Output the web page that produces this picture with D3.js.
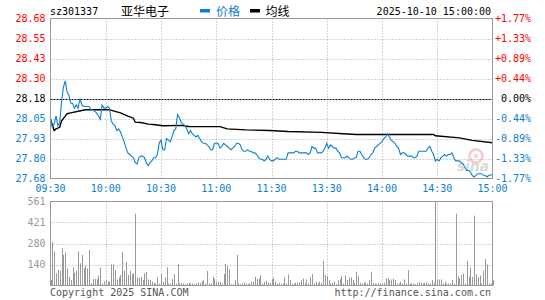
<!DOCTYPE html>
<html>
<head>
<meta charset="utf-8">
<script src="https://cdn.jsdelivr.net/npm/d3@7"></script>
<style>
  body { margin: 0; background: #fff; }
  text { font-family: "DejaVu Sans Mono", monospace; font-size: 10px; }
</style>
</head>
<body>
<script>
const stockCode = "sz301337", stockName = "亚华电子", stamp = "2025-10-10 15:00:00";
const legendNames = ["价格", "均线"];
const timeLabels = ["09:30", "10:00", "10:30", "11:00", "11:30", "13:30", "14:00", "14:30", "15:00"];
const priceLabels = ["28.68", "28.55", "28.43", "28.30", "28.18", "28.05", "27.93", "27.80", "27.68"];
const pctLabels = ["+1.77%", "+1.33%", "+0.89%", "+0.44%", "0.00%", "-0.44%", "-0.89%", "-1.33%", "-1.77%"];
const volLabels = ["561", "421", "280", "140"];
const priceMin = 27.68, priceMax = 28.68, prevClose = 28.18, volMax = 561;

// one value per minute, 09:30..11:30 then 13:01..15:00
const price = [
  28.05, 28.00, 28.02, 28.07, 28.01, 28.03, 28.16, 28.25, 28.29, 28.22,
  28.20, 28.15, 28.15, 28.12, 28.14, 28.12, 28.18, 28.14, 28.13, 28.13,
  28.13, 28.13, 28.11, 28.11, 28.10, 28.09, 28.07, 28.05, 28.14, 28.12,
  28.12, 28.13, 28.12, 28.04, 28.02, 28.01, 27.98, 27.99, 27.97, 27.94,
  27.91, 27.87, 27.84, 27.83, 27.82, 27.81, 27.78, 27.77, 27.81, 27.82,
  27.82, 27.81, 27.78, 27.76, 27.78, 27.79, 27.81, 27.81, 27.83, 27.90,
  27.92, 27.86, 27.86, 27.93, 27.92, 27.91, 27.94, 27.98, 27.99, 28.08,
  28.06, 28.03, 28.02, 28.01, 27.99, 27.96, 27.98, 27.96, 27.95, 27.94,
  27.95, 27.93, 27.91, 27.90, 27.90, 27.89, 27.88, 27.86, 27.86, 27.90,
  27.90, 27.90, 27.87, 27.88, 27.90, 27.89, 27.88, 27.87, 27.86, 27.87,
  27.88, 27.90, 27.90, 27.89, 27.86, 27.85, 27.85, 27.86, 27.85, 27.85,
  27.84, 27.84, 27.83, 27.81, 27.80, 27.80, 27.79, 27.80, 27.82, 27.80,
  27.79, 27.79, 27.80, 27.81, 27.80, 27.80, 27.80, 27.80, 27.80, 27.84,
  27.84, 27.84, 27.84, 27.85, 27.85, 27.84, 27.84, 27.84, 27.84, 27.84,
  27.83, 27.84, 27.88, 27.87, 27.87, 27.84, 27.84, 27.84, 27.85, 27.87,
  27.90, 27.87, 27.89, 27.88, 27.87, 27.87, 27.85, 27.84, 27.81, 27.81,
  27.81, 27.82, 27.81, 27.80, 27.80, 27.81, 27.81, 27.85, 27.85, 27.83,
  27.81, 27.80, 27.80, 27.81, 27.83, 27.84, 27.87, 27.88, 27.89, 27.90,
  27.91, 27.93, 27.94, 27.96, 27.94, 27.92, 27.91, 27.90, 27.88, 27.87,
  27.83, 27.84, 27.84, 27.83, 27.82, 27.82, 27.82, 27.81, 27.81, 27.82,
  27.85, 27.85, 27.85, 27.85, 27.85, 27.87, 27.88, 27.85, 27.83, 27.79,
  27.80, 27.79, 27.81, 27.82, 27.83, 27.82, 27.83, 27.83, 27.84, 27.81,
  27.79, 27.79, 27.79, 27.78, 27.77, 27.75, 27.73, 27.73, 27.72, 27.70,
  27.69, 27.70, 27.71, 27.71, 27.71, 27.70, 27.70, 27.69, 27.70, 27.70, 27.71
];

const avgMinute = [0, 2, 3, 5, 6, 8, 9, 11, 15, 19, 32, 35, 38, 42, 45, 46, 49, 53, 57, 61,
  71, 75, 92, 96, 106, 119, 129, 147, 159, 166, 208, 209, 222, 229, 240];
const avgPrice = [28.05, 27.98, 27.99, 28.00, 28.04, 28.07, 28.085, 28.09, 28.10, 28.11,
  28.11, 28.10, 28.09, 28.07, 28.057, 28.032, 28.03, 28.02, 28.016, 28.01,
  28.012, 28.005, 28.004, 27.99, 27.984, 27.98, 27.974, 27.968, 27.96, 27.955,
  27.955, 27.947, 27.934, 27.918, 27.903];

const volume = [
  36, 292, 227, 81, 103, 99, 249, 204, 220, 114,
  58, 36, 121, 85, 99, 227, 148, 204, 114, 130,
  114, 238, 13, 43, 43, 43, 67, 121, 13, 29,
  36, 29, 25, 141, 141, 103, 40, 54, 70, 225,
  99, 157, 70, 99, 76, 81, 480, 54, 52, 58,
  36, 81, 90, 40, 36, 25, 18, 13, 54, 13,
  81, 25, 54, 121, 13, 13, 43, 76, 13, 144,
  13, 18, 13, 9, 13, 18, 13, 13, 9, 13,
  22, 18, 29, 36, 13, 97, 13, 13, 58, 47,
  25, 25, 25, 13, 76, 144, 130, 108, 9, 9,
  36, 204, 13, 9, 13, 22, 13, 9, 13, 25,
  25, 58, 45, 47, 70, 13, 25, 31, 18, 18,
  43, 54, 25, 13, 18, 9, 13, 54, 13, 74,
  36, 9, 13, 18, 18, 22, 36, 47, 13, 40,
  13, 54, 76, 13, 25, 13, 25, 18, 164, 70,
  63, 36, 13, 18, 25, 9, 36, 43, 63, 13,
  67, 36, 54, 54, 36, 18, 92, 63, 18, 13,
  18, 22, 13, 36, 92, 18, 13, 9, 18, 13,
  13, 18, 49, 49, 36, 40, 45, 36, 13, 13,
  25, 13, 40, 13, 103, 13, 13, 13, 9, 18,
  25, 18, 13, 18, 22, 13, 13, 36, 18, 561,
  40, 40, 40, 13, 25, 13, 13, 13, 36, 13,
  480, 63, 47, 70, 81, 13, 164, 58, 119, 58,
  467, 76, 54, 67, 13, 99, 177, 141, 13, 13, 36
];

const width = 545, height = 300;
const left = 50.5, right = 492.5;
const red = "#ff0000", blue = "#0b80d0", grey = "#999";

const svg = d3.select("body").append("svg")
    .attr("width", width)
    .attr("height", height);

const x = d3.scaleLinear().domain([0, price.length - 1]).range([left, right]);
const y = d3.scaleLinear().domain([priceMin, priceMax]).range([178.5, 18.5]);
const yv = d3.scaleLinear().domain([0, volMax]).range([285.5, 201.5]);

const timeAt = d3.range(timeLabels.length).map(i => i * (price.length - 1) / (timeLabels.length - 1));
const priceAt = d3.range(priceLabels.length).map(i => priceMax - i * (priceMax - priceMin) / (priceLabels.length - 1));
const volAt = volLabels.map(v => +v);

function labelColor(i) {
    const mid = (priceLabels.length - 1) / 2;
    return i < mid ? red : (i > mid ? blue : "#000");
}

// header
svg.append("text").attr("x", 50).attr("y", 15).attr("fill", "#000").text(stockCode);
svg.append("text").attr("x", 121).attr("y", 15.5).attr("fill", "#000")
    .style("font-family", "'Noto Sans CJK SC'").style("font-size", "12px").text(stockName);
svg.append("rect").attr("x", 200).attr("y", 9).attr("width", 10).attr("height", 3.5).attr("fill", blue);
svg.append("text").attr("x", 216).attr("y", 15.5).attr("fill", blue)
    .style("font-family", "'Noto Sans CJK SC'").style("font-size", "12px").text(legendNames[0]);
svg.append("rect").attr("x", 250).attr("y", 9).attr("width", 10).attr("height", 3.5).attr("fill", "#000");
svg.append("text").attr("x", 265.5).attr("y", 15.5).attr("fill", "#000")
    .style("font-family", "'Noto Sans CJK SC'").style("font-size", "12px").text(legendNames[1]);
svg.append("text").attr("x", 491).attr("y", 15).attr("text-anchor", "end").attr("fill", "#000").text(stamp);

// price grid
const grid = svg.append("g").attr("fill", "none");
grid.selectAll(".hg")
    .data(priceAt.slice(1, -1))
    .enter().append("line")
    .attr("x1", left).attr("x2", right)
    .attr("y1", d => Math.round(y(d)) + 0.5).attr("y2", d => Math.round(y(d)) + 0.5)
    .attr("stroke", (d, i) => i === 3 ? "#000" : "#aaa")
    .attr("stroke-dasharray", (d, i) => i === 3 ? "2,1" : "1,2");
grid.selectAll(".vg")
    .data(timeAt.slice(1, -1))
    .enter().append("line")
    .attr("x1", d => Math.round(x(d)) + 0.5).attr("x2", d => Math.round(x(d)) + 0.5)
    .attr("y1", y(priceMax)).attr("y2", y(priceMin))
    .attr("stroke", "#aaa").attr("stroke-dasharray", "1,2");

// volume grid
grid.selectAll(".hvg")
    .data(volAt.slice(1))
    .enter().append("line")
    .attr("x1", left).attr("x2", right)
    .attr("y1", d => Math.round(yv(d)) + 0.5).attr("y2", d => Math.round(yv(d)) + 0.5)
    .attr("stroke", "#aaa").attr("stroke-dasharray", "1,2");
grid.selectAll(".vvg")
    .data(timeAt.slice(1, -1))
    .enter().append("line")
    .attr("x1", d => Math.round(x(d)) + 0.5).attr("x2", d => Math.round(x(d)) + 0.5)
    .attr("y1", yv(volMax)).attr("y2", yv(0))
    .attr("stroke", "#aaa").attr("stroke-dasharray", "1,2");

// sina watermark
const wm = svg.append("g").attr("opacity", 0.55);
wm.append("circle").attr("cx", 476).attr("cy", 156).attr("r", 6.5).attr("fill", "none")
    .attr("stroke", "#f4a0a0").attr("stroke-width", 2.5);
wm.append("circle").attr("cx", 476).attr("cy", 156).attr("r", 2).attr("fill", "#f4a0a0");
wm.append("text").attr("x", 473).attr("y", 171).attr("text-anchor", "middle")
    .attr("fill", "#bbb").style("font-family", "'DejaVu Sans'").style("font-size", "14px")
    .style("font-weight", "bold").style("font-style", "italic").text("sina");

// volume bars
svg.append("g").selectAll("line")
    .data(volume)
    .enter().append("line")
    .attr("x1", (d, i) => Math.round(x(i)) + 0.5).attr("x2", (d, i) => Math.round(x(i)) + 0.5)
    .attr("y1", yv(0)).attr("y2", d => yv(d))
    .attr("stroke", "#999").attr("stroke-width", 1);

// lines
const avgLine = d3.line()
    .x((d, i) => x(avgMinute[i]))
    .y(d => y(d));
svg.append("path")
    .datum(avgPrice)
    .attr("fill", "none").attr("stroke", "#000").attr("stroke-width", 1.4)
    .attr("d", avgLine);

const priceLine = d3.line()
    .x((d, i) => x(i))
    .y(d => y(d));
svg.append("path")
    .datum(price)
    .attr("fill", "none").attr("stroke", blue).attr("stroke-width", 1.1)
    .attr("d", priceLine);

// frames
svg.append("rect").attr("x", left).attr("y", y(priceMax)).attr("width", right - left)
    .attr("height", y(priceMin) - y(priceMax)).attr("fill", "none").attr("stroke", grey);
svg.append("rect").attr("x", left).attr("y", yv(volMax)).attr("width", right - left)
    .attr("height", yv(0) - yv(volMax)).attr("fill", "none").attr("stroke", grey);

// axis labels
svg.append("g").selectAll("text")
    .data(priceLabels)
    .enter().append("text")
    .attr("x", 45.5).attr("y", (d, i) => y(priceAt[i]) + 3.5)
    .attr("text-anchor", "end").attr("fill", (d, i) => labelColor(i))
    .text(d => d);
svg.append("g").selectAll("text")
    .data(pctLabels)
    .enter().append("text")
    .attr("x", 531).attr("y", (d, i) => y(priceAt[i]) + 3.5)
    .attr("text-anchor", "end").attr("fill", (d, i) => labelColor(i))
    .text(d => d);
svg.append("g").selectAll("text")
    .data(timeLabels)
    .enter().append("text")
    .attr("x", (d, i) => x(timeAt[i])).attr("y", 191.5)
    .attr("text-anchor", "middle").attr("fill", blue)
    .text(d => d);
svg.append("g").selectAll("text")
    .data(volLabels)
    .enter().append("text")
    .attr("x", 45.5).attr("y", (d, i) => yv(volAt[i]) + 3.5)
    .attr("text-anchor", "end").attr("fill", grey)
    .text(d => d);

svg.append("text").attr("x", 50).attr("y", 296).attr("fill", "#555").text("Copyright 2025 SINA.COM");
svg.append("text").attr("x", 491).attr("y", 296).attr("text-anchor", "end").attr("fill", "#555")
    .text("http://finance.sina.com.cn");
</script>
</body>
</html>
